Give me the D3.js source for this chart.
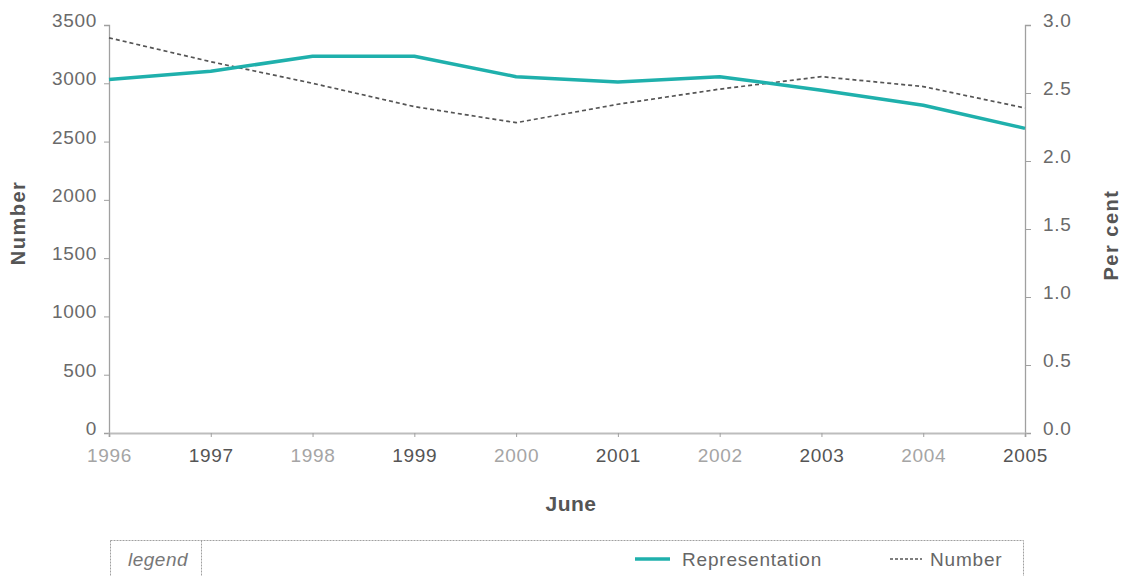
<!DOCTYPE html>
<html>
<head>
<meta charset="utf-8">
<script src="https://cdn.jsdelivr.net/npm/d3@7/dist/d3.min.js"></script>
<style>
  html, body { margin: 0; padding: 0; background: #fff; }
  svg { display: block; }
  text { font-family: "Liberation Sans", Arial, Helvetica, sans-serif; }
</style>
</head>
<body>
<svg id="chart" width="1122" height="576"></svg>
<script>
// ---- data ----
const years = [1996, 1997, 1998, 1999, 2000, 2001, 2002, 2003, 2004, 2005];
const numberValues = [3390, 3185, 3000, 2800, 2662, 2820, 2950, 3057, 2972, 2788];
const representationValues = [2.60, 2.66, 2.77, 2.77, 2.62, 2.58, 2.62, 2.52, 2.41, 2.24];
const leftTicks = [0, 500, 1000, 1500, 2000, 2500, 3000, 3500];
const rightTicks = [0.0, 0.5, 1.0, 1.5, 2.0, 2.5, 3.0];
const legendItems = ["Representation", "Number"];

// ---- layout ----
const svg = d3.select("#chart");
const pLeft = 109, pRight = 1025, pTop = 25, pBottom = 433;

const x = d3.scalePoint().domain(years).range([pLeft, pRight]);
const yL = d3.scaleLinear().domain([0, 3500]).range([pBottom, pTop]);
const yR = d3.scaleLinear().domain([0, 3.0]).range([pBottom, pTop]);

const axisColor = "#a0a0a0";
const labelColor = "#6a6a6a";

// left axis
const gL = svg.append("g").attr("transform", `translate(${pLeft},0)`)
  .call(d3.axisLeft(yL).tickValues(leftTicks).tickSize(5).tickPadding(7).tickFormat(d3.format("d")));
// right axis
const gR = svg.append("g").attr("transform", `translate(${pRight},0)`)
  .call(d3.axisRight(yR).tickValues(rightTicks).tickSize(6).tickPadding(12).tickFormat(d3.format(".1f")));
// bottom axis
const gB = svg.append("g").attr("transform", `translate(0,${pBottom})`)
  .call(d3.axisBottom(x).tickSize(4).tickPadding(12).tickFormat(d3.format("d")));

[gL, gR, gB].forEach(g => {
  g.select(".domain").attr("stroke", axisColor).attr("stroke-width", 1.3);
  g.selectAll(".tick line").attr("stroke", axisColor).attr("stroke-width", 1);
  g.selectAll(".tick text")
    .attr("fill", labelColor)
    .style("font-size", "19px")
    .style("letter-spacing", "0.7px");
});
gB.select(".domain").attr("stroke-width", 2).attr("stroke", "#bdbdbd");
gL.selectAll(".tick text").attr("dy", "0.08em");
gR.selectAll(".tick text").attr("dy", "0.08em");
gB.selectAll(".tick text").attr("dy", "0.71em")
  .attr("fill", (d, i) => i % 2 === 0 ? "#a5a5a5" : "#555555");

// ---- lines ----
const lineNumber = d3.line()
  .x((d, i) => x(years[i]))
  .y(d => yL(d));
const lineRep = d3.line()
  .x((d, i) => x(years[i]))
  .y(d => yR(d));

svg.append("path")
  .datum(numberValues)
  .attr("d", lineNumber)
  .attr("fill", "none")
  .attr("stroke", "#555")
  .attr("stroke-width", 1.7)
  .attr("stroke-dasharray", "4,3");

svg.append("path")
  .datum(representationValues)
  .attr("d", lineRep)
  .attr("fill", "none")
  .attr("stroke", "#1fb0ac")
  .attr("stroke-width", 3.5)
  .attr("stroke-linejoin", "round");

// ---- axis titles ----
svg.append("text")
  .attr("transform", `translate(25,${(pTop + pBottom) / 2 - 6}) rotate(-90)`)
  .attr("text-anchor", "middle")
  .attr("fill", "#555")
  .style("font-size", "20px")
  .style("font-weight", "bold")
  .style("letter-spacing", "1.5px")
  .text("Number");

svg.append("text")
  .attr("transform", `translate(1118,${(pTop + pBottom) / 2 + 6}) rotate(-90)`)
  .attr("text-anchor", "middle")
  .attr("fill", "#555")
  .style("font-size", "20px")
  .style("font-weight", "bold")
  .style("letter-spacing", "1.5px")
  .text("Per cent");

svg.append("text")
  .attr("x", 571)
  .attr("y", 511)
  .attr("text-anchor", "middle")
  .attr("fill", "#555")
  .style("font-size", "21px")
  .style("font-weight", "bold")
  .style("letter-spacing", "0.5px")
  .text("June");

// ---- legend ----
const lg = svg.append("g");
lg.append("rect")
  .attr("x", 110.5).attr("y", 540.5)
  .attr("width", 913).attr("height", 60)
  .attr("fill", "none")
  .attr("stroke", "#a0a0a0")
  .attr("stroke-width", 1)
  .attr("stroke-dasharray", "2,1");
lg.append("line")
  .attr("x1", 201.5).attr("x2", 201.5)
  .attr("y1", 540.5).attr("y2", 576)
  .attr("stroke", "#a0a0a0")
  .attr("stroke-dasharray", "2,1");
lg.append("text")
  .attr("x", 158).attr("y", 566)
  .attr("text-anchor", "middle")
  .attr("fill", "#777")
  .style("font-size", "19px")
  .style("font-style", "italic")
  .style("letter-spacing", "0.5px")
  .text("legend");

lg.append("line")
  .attr("x1", 635).attr("x2", 670)
  .attr("y1", 559).attr("y2", 559)
  .attr("stroke", "#1fb0ac").attr("stroke-width", 3.5);
lg.append("text")
  .attr("x", 682).attr("y", 566)
  .attr("fill", "#666")
  .style("font-size", "19px")
  .style("letter-spacing", "0.8px")
  .text(legendItems[0]);

lg.append("line")
  .attr("x1", 890).attr("x2", 922)
  .attr("y1", 559).attr("y2", 559)
  .attr("stroke", "#555").attr("stroke-width", 1.3)
  .attr("stroke-dasharray", "3,2");
lg.append("text")
  .attr("x", 930).attr("y", 566)
  .attr("fill", "#666")
  .style("font-size", "19px")
  .style("letter-spacing", "0.8px")
  .text(legendItems[1]);
</script>
</body>
</html>
